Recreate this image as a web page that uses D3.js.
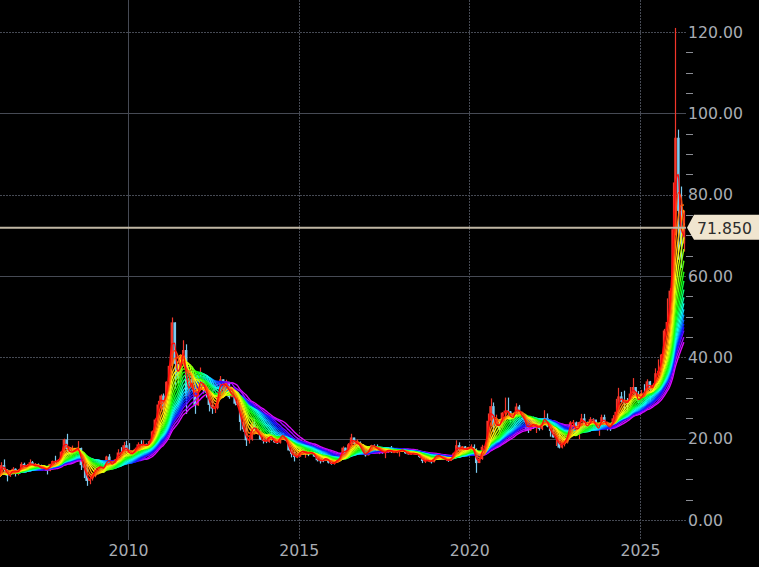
<!DOCTYPE html>
<html>
<head>
<meta charset="utf-8">
<script src="https://cdn.jsdelivr.net/npm/d3@7"></script>
<style>
  html, body { margin: 0; padding: 0; background: #000; }
  svg { display: block; }
  .axis text { font-family: "DejaVu Sans", sans-serif; font-size: 15.7px; fill: #a9adb4; }
  .axis path { display: none; }
</style>
</head>
<body>
<svg id="chart" width="759" height="567"></svg>
<script>
'use strict'

// monthly bars, first one is Jan 2006 (one row per year)
var startYear = 2006;

var closes = [
    9.8, 9.6, 11.6, 13.5, 12.5, 10.9, 11.3, 12.6, 11.5, 12.3, 13.8, 12.9,   // 2006
    13.4, 14.2, 13.3, 13.4, 13.2, 12.5, 12.9, 12.1, 13.8, 14.5, 14.3, 14.8, // 2007
    16.8, 19.8, 17.4, 16.5, 16.9, 17.5, 17.7, 13.5, 12.9, 9.6, 10.2, 11.3,  // 2008
    12.6, 13.0, 13.1, 12.5, 15.6, 13.6, 13.9, 14.9, 16.6, 16.2, 18.4, 16.9, // 2009
    16.2, 16.4, 17.5, 18.6, 18.4, 18.7, 18.0, 19.4, 21.8, 24.7, 28.4, 30.6, // 2010
    27.9, 34.0, 37.9, 48.6, 38.4, 34.8, 40.1, 41.8, 30.4, 34.5, 32.8, 28.2, // 2011
    33.1, 34.6, 32.4, 31.3, 28.3, 27.4, 27.5, 31.0, 34.6, 32.2, 34.0, 30.2, // 2012
    31.9, 28.6, 28.3, 24.1, 22.3, 19.6, 19.8, 23.6, 21.7, 21.9, 19.8, 19.5, // 2013
    19.2, 21.2, 19.8, 19.1, 19.0, 21.0, 20.4, 19.5, 17.1, 16.2, 15.5, 15.6, // 2014
    17.2, 16.6, 16.6, 16.3, 16.8, 15.6, 14.7, 14.6, 14.5, 15.6, 14.1, 13.8, // 2015
    14.2, 14.9, 15.4, 17.8, 16.0, 18.6, 20.3, 18.7, 19.2, 17.7, 16.5, 15.9, // 2016
    17.5, 18.4, 18.2, 17.2, 17.3, 16.5, 16.7, 17.5, 16.7, 16.7, 16.9, 17.1, // 2017
    17.3, 16.4, 16.3, 16.3, 16.4, 16.1, 15.5, 14.5, 14.6, 14.7, 14.2, 15.5, // 2018
    16.0, 15.6, 15.1, 14.9, 14.5, 15.3, 16.4, 18.4, 17.0, 18.1, 16.9, 17.9, // 2019
    18.0, 16.7, 14.0, 15.0, 18.0, 18.2, 24.4, 28.0, 23.3, 23.9, 22.6, 26.4, // 2020
    26.9, 26.7, 24.5, 26.0, 27.9, 26.1, 25.5, 24.0, 22.0, 24.0, 23.0, 23.3, // 2021
    22.4, 24.3, 25.1, 23.0, 21.9, 20.3, 20.3, 17.8, 19.0, 19.1, 21.6, 24.0, // 2022
    24.0, 20.9, 24.1, 25.0, 23.5, 22.8, 24.8, 24.7, 22.3, 22.9, 25.3, 23.8, // 2023
    23.0, 22.7, 25.0, 26.6, 30.4, 29.1, 29.0, 28.9, 31.1, 32.7, 30.3, 28.9, // 2024
    31.3, 31.2, 34.1, 32.1, 33.0, 36.1, 36.7, 40.7, 46.6, 48.7, 56.4, 71.5, // 2025
    94.0, 76.0, 68.0, 71.85                                                 // 2026
];

var highs = [
    10.0, 10.1, 11.7, 14.2, 14.9, 11.9, 11.7, 13.0, 12.7, 12.5, 14.2, 14.1,
    13.8, 14.9, 14.5, 14.0, 13.9, 13.6, 13.5, 13.0, 13.8, 14.6, 15.8, 14.9,
    16.9, 20.0, 21.2, 17.9, 18.3, 17.7, 19.4, 17.8, 14.5, 13.7, 10.9, 11.5,
    12.9, 14.6, 13.5, 14.0, 15.8, 16.2, 14.0, 15.0, 17.4, 17.9, 19.2, 19.5,
    18.9, 16.6, 17.8, 19.1, 19.6, 19.6, 18.8, 19.6, 22.0, 25.0, 29.3, 30.9,
    31.1, 34.1, 38.2, 49.8, 48.6, 38.3, 40.8, 44.2, 43.2, 35.5, 35.5, 33.4,
    33.7, 37.5, 35.4, 33.0, 31.4, 29.2, 28.6, 31.4, 35.4, 34.6, 34.5, 33.9,
    32.4, 32.2, 29.3, 28.7, 24.9, 23.2, 20.5, 24.6, 25.2, 23.1, 22.2, 20.4,
    20.4, 21.8, 21.9, 20.3, 19.8, 21.4, 21.6, 20.4, 19.6, 17.7, 16.8, 17.3,
    18.5, 17.4, 17.1, 16.8, 17.8, 16.9, 15.7, 15.6, 15.3, 16.5, 15.6, 14.3,
    14.6, 15.6, 15.9, 18.1, 17.8, 18.9, 21.2, 20.2, 19.8, 19.3, 18.6, 17.2,
    17.9, 18.5, 18.6, 18.6, 17.6, 17.8, 16.9, 17.9, 18.2, 17.4, 17.3, 17.1,
    17.7, 17.1, 16.8, 17.3, 16.7, 17.3, 16.1, 15.7, 14.9, 14.9, 14.7, 15.6,
    16.2, 16.1, 15.6, 15.3, 14.9, 15.5, 16.6, 19.6, 19.1, 18.2, 18.2, 18.0,
    18.6, 18.6, 17.6, 15.6, 18.5, 18.5, 26.2, 29.9, 28.9, 25.9, 24.8, 26.5,
    30.1, 30.1, 26.8, 26.4, 28.7, 28.3, 26.6, 25.5, 24.7, 24.8, 25.4, 23.4,
    24.7, 25.0, 27.0, 26.2, 22.9, 22.5, 20.5, 20.9, 19.8, 21.2, 22.2, 24.3,
    24.6, 24.2, 24.2, 26.1, 26.1, 24.2, 25.3, 25.0, 24.3, 23.7, 25.9, 25.9,
    24.1, 23.3, 25.8, 29.8, 32.5, 31.5, 31.8, 30.0, 32.7, 34.9, 32.0, 31.7,
    32.0, 33.4, 34.6, 34.2, 33.6, 37.3, 39.5, 40.8, 47.0, 54.5, 57.0, 83.0,
    121.0, 96.0, 82.0, 76.0
];

var lows = [
    8.8, 9.3, 9.5, 11.5, 11.6, 9.5, 10.6, 11.2, 10.7, 11.0, 12.3, 12.4,
    12.3, 13.2, 12.6, 13.2, 12.8, 12.4, 12.5, 11.2, 12.0, 13.4, 13.7, 13.6,
    14.6, 16.4, 16.8, 16.2, 16.1, 16.0, 17.0, 12.3, 10.3, 8.4, 8.8, 9.7,
    10.5, 12.2, 12.0, 11.9, 12.3, 13.3, 12.5, 13.6, 14.8, 16.0, 16.3, 16.6,
    16.2, 14.6, 16.5, 17.5, 17.1, 17.7, 17.3, 17.4, 19.4, 21.4, 23.3, 26.6,
    26.4, 28.1, 33.6, 37.9, 32.3, 33.0, 33.8, 37.8, 26.1, 30.0, 31.2, 26.1,
    28.1, 32.8, 31.1, 30.1, 26.7, 26.1, 26.3, 27.2, 30.8, 31.4, 31.7, 29.8,
    30.2, 28.2, 28.2, 22.0, 21.7, 18.2, 18.8, 19.5, 21.3, 21.0, 19.7, 18.8,
    18.9, 19.0, 19.5, 19.0, 18.7, 18.8, 20.3, 19.3, 16.9, 15.4, 14.4, 15.2,
    15.6, 16.1, 15.3, 15.7, 16.2, 15.5, 14.4, 13.9, 14.2, 14.5, 13.9, 13.6,
    13.6, 14.1, 14.8, 15.0, 15.8, 15.8, 18.6, 18.5, 18.4, 16.7, 16.0, 15.6,
    15.9, 17.4, 16.8, 16.7, 16.2, 16.3, 15.2, 16.5, 16.5, 16.6, 16.4, 15.6,
    16.8, 16.3, 16.1, 16.1, 16.1, 16.0, 15.3, 14.0, 14.0, 14.4, 13.9, 14.2,
    15.3, 15.4, 14.9, 14.8, 14.3, 14.6, 15.1, 16.3, 17.1, 16.8, 16.5, 16.7,
    17.4, 16.4, 11.6, 14.0, 14.8, 17.1, 17.7, 23.1, 21.7, 22.9, 21.9, 22.5,
    24.3, 25.9, 23.8, 24.0, 25.7, 25.6, 24.9, 22.2, 21.4, 21.9, 22.4, 21.4,
    22.0, 22.1, 24.2, 22.8, 20.5, 20.3, 18.2, 17.6, 17.6, 18.1, 18.8, 21.1,
    23.0, 20.9, 19.9, 24.0, 22.7, 22.1, 22.5, 22.2, 22.2, 20.7, 22.4, 22.5,
    22.0, 21.9, 22.5, 24.7, 26.0, 28.6, 27.0, 26.5, 28.0, 31.0, 29.6, 28.6,
    28.8, 31.1, 31.6, 28.3, 31.5, 32.8, 35.8, 36.4, 39.7, 45.5, 45.5, 55.5,
    70.0, 64.0, 62.0, 66.0
];

// rainbow moving averages, lengths in months (fast = red, slow = violet)
var maPeriods = [2, 3, 4, 5, 6, 7, 8, 9, 10, 11, 12, 13, 14, 15, 16, 17, 18, 19, 20, 22, 24];

var lastPrice = 71.85;
var yLabels = [0, 20, 40, 60, 80, 100, 120];
var yMinor = [5, 10, 15, 25, 30, 35, 45, 50, 55, 65, 70, 75, 85, 90, 95, 105, 110, 115];
var solidY = [20, 60, 100];
var xYears = [2010, 2015, 2020, 2025];
var solidX = [2010];

// layout
var width = 759, height = 567;
var plotRight = 686, plotBottom = 540;
var upColor = "#f2362a", downColor = "#7ccbf0";
var gridColor = "#464a54";

var svg = d3.select("#chart");

var x = d3.scaleTime()
    .domain([new Date(2006, 0, 1), new Date(2027, 0, 1)])
    .range([-8.53, 708.27]);
var y = d3.scaleLinear().domain([0, 120]).range([520, 32]);

svg.append("rect").attr("width", width).attr("height", height).attr("fill", "#000");

svg.append("defs").append("clipPath").attr("id", "plotClip")
    .append("rect").attr("x", 0).attr("y", 0).attr("width", plotRight).attr("height", plotBottom);

// grid
var grid = svg.append("g");
grid.selectAll("line.h").data(yLabels).enter().append("line")
    .attr("x1", 0).attr("x2", plotRight)
    .attr("y1", function(d){ return Math.round(y(d)) + 0.5; })
    .attr("y2", function(d){ return Math.round(y(d)) + 0.5; })
    .attr("stroke", gridColor)
    .attr("stroke-dasharray", function(d){ return solidY.indexOf(d) >= 0 ? null : "2,1"; });

grid.selectAll("line.v").data(xYears).enter().append("line")
    .attr("y1", 0).attr("y2", plotBottom)
    .attr("x1", function(d){ return Math.round(x(new Date(d, 0, 1))) + 0.5; })
    .attr("x2", function(d){ return Math.round(x(new Date(d, 0, 1))) + 0.5; })
    .attr("stroke", gridColor)
    .attr("stroke-dasharray", function(d){ return solidX.indexOf(d) >= 0 ? null : "2,1"; });

// bars
var bars = closes.map(function(c, i){
    return {
        date: new Date(startYear, i, 15),
        open: i > 0 ? closes[i - 1] : c,
        close: c, high: highs[i], low: lows[i]
    };
});

var plot = svg.append("g").attr("clip-path", "url(#plotClip)");

var candles = plot.append("g").selectAll("g").data(bars).enter().append("g");
candles.append("line")
    .attr("x1", function(d){ return Math.round(x(d.date)) + 0.5; })
    .attr("x2", function(d){ return Math.round(x(d.date)) + 0.5; })
    .attr("y1", function(d){ return y(d.high); })
    .attr("y2", function(d){ return y(d.low); })
    .attr("stroke", function(d){ return d.close >= d.open ? upColor : downColor; })
    .attr("stroke-width", 1.2);
candles.append("rect")
    .attr("x", function(d){ return x(d.date) - 1.25; })
    .attr("width", 2.5)
    .attr("y", function(d){ return y(Math.max(d.open, d.close)); })
    .attr("height", function(d){ return Math.max(1, Math.abs(y(d.open) - y(d.close))); })
    .attr("fill", function(d){ return d.close >= d.open ? upColor : downColor; });

// moving averages
function sma(p){
    return bars.map(function(d, i){
        var from = Math.max(0, i - p + 1);
        return { date: d.date, value: d3.mean(closes.slice(from, i + 1)) };
    });
}

var hue = d3.scaleLinear().domain([0, maPeriods.length - 1]).range([0, 292]);
var maLine = d3.line()
    .x(function(d){ return x(d.date); })
    .y(function(d){ return y(d.value); })
    .curve(d3.curveMonotoneX);

var maData = maPeriods.map(function(p, i){ return { idx: i, values: sma(p) }; }).reverse();
plot.append("g").selectAll("path").data(maData).enter().append("path")
    .attr("d", function(d){ return maLine(d.values); })
    .attr("fill", "none")
    .attr("stroke", function(d){ return d3.hsl(hue(d.idx), 1, 0.52).toString(); })
    .attr("stroke-width", 1.4);

// y axis (right)
svg.append("g").attr("class", "axis")
    .attr("transform", "translate(" + plotRight + ",0)")
    .call(d3.axisRight(y).tickValues(yLabels).tickFormat(d3.format(".2f")).tickSize(0).tickPadding(2));

svg.append("g").selectAll("line").data(yMinor).enter().append("line")
    .attr("x1", plotRight).attr("x2", plotRight + 7)
    .attr("y1", function(d){ return Math.round(y(d)) + 0.5; })
    .attr("y2", function(d){ return Math.round(y(d)) + 0.5; })
    .attr("stroke", "#8a8d94");

// x axis
svg.append("g").attr("class", "axis")
    .attr("transform", "translate(0," + plotBottom + ")")
    .call(d3.axisBottom(x)
        .tickValues(xYears.map(function(d){ return new Date(d, 0, 1); }))
        .tickFormat(d3.timeFormat("%Y")).tickSize(0).tickPadding(5));

// last price line and tag
var py = y(lastPrice);
svg.append("line")
    .attr("x1", 0).attr("x2", plotRight)
    .attr("y1", py).attr("y2", py)
    .attr("stroke", "#c0b7a4").attr("stroke-width", 2);

svg.append("path")
    .attr("d", "M" + 687 + "," + py + "L694," + (py - 13) + "L759," + (py - 13) +
               "L759," + (py + 12) + "L694," + (py + 12) + "Z")
    .attr("fill", "#f0e5cf");
svg.append("text")
    .attr("x", 697).attr("y", py + 6)
    .attr("font-family", "DejaVu Sans, sans-serif").attr("font-size", "15.7px")
    .attr("fill", "#2c2c2c")
    .text(d3.format(".3f")(lastPrice));
</script>
</body>
</html>
